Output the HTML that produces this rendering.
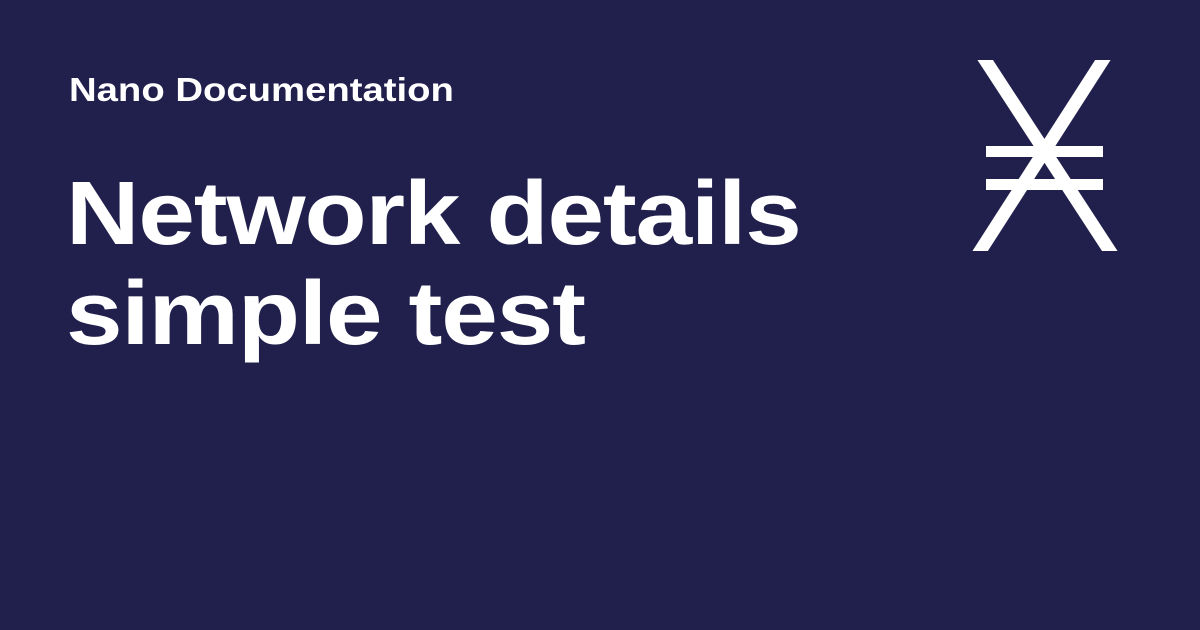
<!DOCTYPE html>
<html><head><style>
html,body{margin:0;padding:0}
body{width:1200px;height:630px;background:#21204d;position:relative;overflow:hidden;font-family:"Liberation Sans",sans-serif;color:#fff;font-weight:bold}
.sub{position:absolute;left:69px;top:70px;font-size:33px;line-height:40px;transform:scaleX(1.16);transform-origin:0 0;white-space:nowrap}
.t{position:absolute;left:66px;top:164px;font-size:90px;line-height:100px;letter-spacing:-1px;transform:scaleX(1.13);transform-origin:0 0;white-space:nowrap}
svg{position:absolute;left:0;top:0}
</style></head><body>
<div class="sub">Nano Documentation</div>
<div class="t">Network details<br>simple test</div>
<svg width="1200" height="630">
<defs><clipPath id="c"><rect x="960" y="60" width="170" height="191"/></clipPath></defs>
<g stroke="#fff" stroke-width="13" clip-path="url(#c)">
<line x1="980" y1="52" x2="1115" y2="259"/>
<line x1="1108" y1="52" x2="975" y2="259"/>
</g>
<g stroke="#fff" stroke-width="11">
<line x1="986" y1="151.5" x2="1103" y2="151.5"/>
<line x1="986" y1="184.5" x2="1103" y2="184.5"/>
</g>
</svg>
</body></html>
